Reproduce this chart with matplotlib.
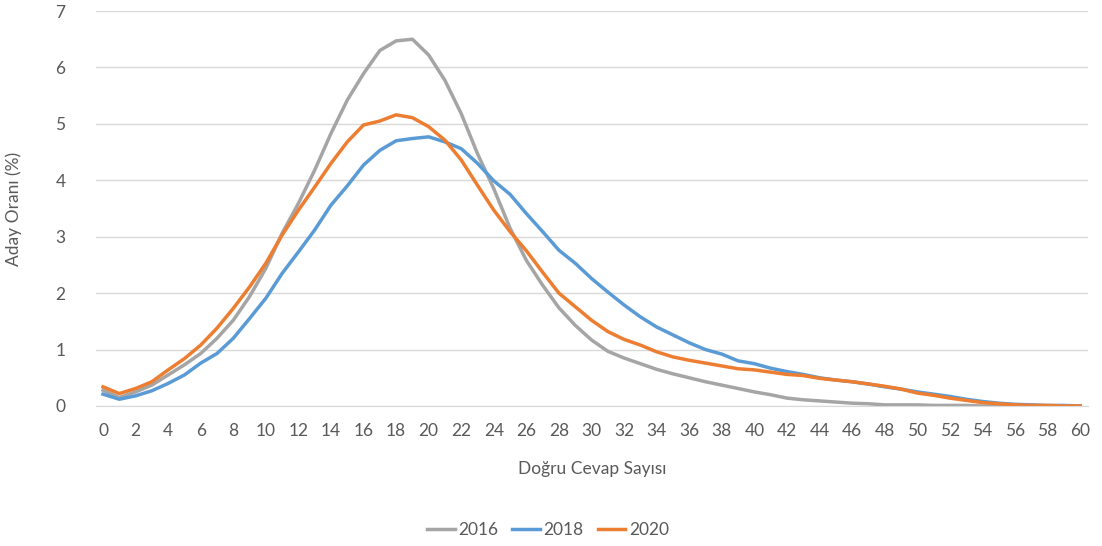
import matplotlib.pyplot as plt

x = list(range(61))

y2016 = [0.28, 0.15, 0.25, 0.37, 0.55, 0.73, 0.93, 1.20, 1.52, 1.94,
         2.44, 3.06, 3.59, 4.18, 4.83, 5.42, 5.89, 6.30, 6.47, 6.50,
         6.22, 5.77, 5.18, 4.47, 3.85, 3.15, 2.58, 2.14, 1.74, 1.43,
         1.17, 0.97, 0.85, 0.75, 0.65, 0.57, 0.50, 0.43, 0.37, 0.31,
         0.25, 0.20, 0.14, 0.11, 0.09, 0.07, 0.05, 0.04, 0.02, 0.02,
         0.02, 0.01, 0.01, 0.01, 0.0, 0.0, 0.0, 0.0, 0.0, 0.0, 0.0]
y2018 = [0.21, 0.12, 0.18, 0.27, 0.40, 0.55, 0.76, 0.93, 1.20, 1.55,
         1.91, 2.35, 2.73, 3.12, 3.56, 3.90, 4.27, 4.53, 4.70, 4.74,
         4.77, 4.68, 4.56, 4.30, 3.99, 3.75, 3.41, 3.09, 2.76, 2.53,
         2.26, 2.02, 1.79, 1.58, 1.40, 1.26, 1.12, 1.00, 0.92, 0.80,
         0.75, 0.67, 0.61, 0.56, 0.50, 0.46, 0.43, 0.39, 0.34, 0.30,
         0.25, 0.21, 0.17, 0.12, 0.08, 0.05, 0.03, 0.02, 0.01, 0.01, 0.0]
y2020 = [0.34, 0.22, 0.31, 0.43, 0.64, 0.84, 1.08, 1.38, 1.73, 2.11,
         2.53, 3.03, 3.47, 3.88, 4.30, 4.68, 4.98, 5.05, 5.16, 5.11,
         4.95, 4.71, 4.36, 3.91, 3.47, 3.09, 2.75, 2.37, 2.00, 1.76,
         1.52, 1.32, 1.18, 1.08, 0.96, 0.87, 0.81, 0.76, 0.71, 0.66,
         0.64, 0.60, 0.56, 0.54, 0.49, 0.46, 0.43, 0.39, 0.35, 0.30,
         0.23, 0.19, 0.14, 0.10, 0.06, 0.04, 0.02, 0.01, 0.01, 0.0, 0.0]

plt.rcParams['font.family'] = ['Lato', 'DejaVu Sans']
txt = '#595959'

fig = plt.figure(figsize=(11.02, 5.46), dpi=100)
ax = fig.add_axes([96 / 1102, 140 / 546, 992 / 1102, 395 / 546])

ax.plot(x, y2016, color='#A5A5A5', lw=2.5, label='2016')
ax.plot(x, y2018, color='#5B9BD5', lw=2.5, label='2018')
ax.plot(x, y2020, color='#ED7D31', lw=2.5, label='2020')

ax.set_xlim(-0.43, 60.49)
ax.set_ylim(0, 7)
ax.set_xticks(range(0, 61, 2))
ax.set_yticks(range(0, 8))
ax.grid(axis='y', color='#D9D9D9', lw=1)
ax.set_axisbelow(True)
for s in ['top', 'right', 'left']:
    ax.spines[s].set_visible(False)
ax.spines['bottom'].set_color('#D9D9D9')
ax.tick_params(length=0, labelsize=12.5, colors=txt)
ax.tick_params(axis='x', pad=12)
ax.tick_params(axis='y', pad=22)

ax.set_xlabel('Doğru Cevap Sayısı', fontsize=12.5, color=txt, labelpad=16)
ax.set_ylabel('Aday Oranı (%)', fontsize=12.5, color=txt, labelpad=24)

fig.legend(loc='center', bbox_to_anchor=(548 / 1102, 1 - 530 / 546), ncol=3,
           frameon=False, fontsize=12.5, handlelength=1.6, handletextpad=0.2,
           columnspacing=0.8, labelcolor=txt)

fig.savefig('out.png', dpi=100)
